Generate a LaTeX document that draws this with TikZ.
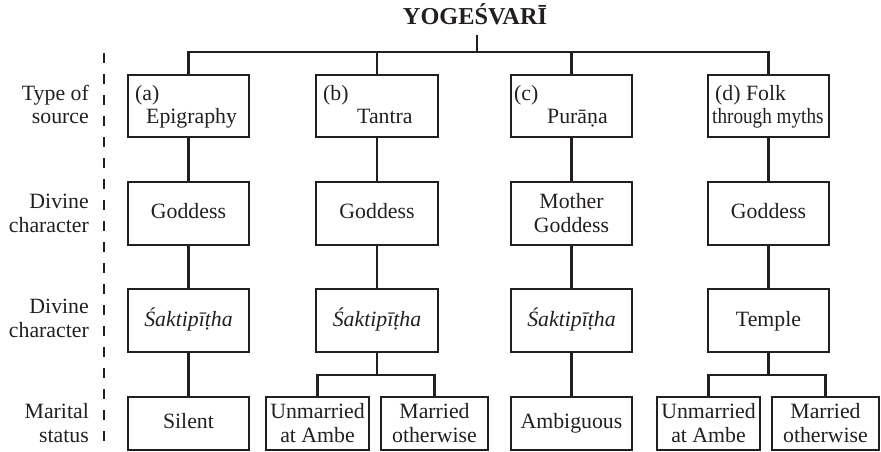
\documentclass[tikz,border=0pt]{standalone}
\usepackage{fontspec}
\setmainfont{Liberation Serif}
\usepackage{graphicx}
\definecolor{inkc}{HTML}{231F20}
\newcommand\dotb[2]{\iffontchar\font"#1\relax\char"#1\relax\else\oalign{#2\crcr\hidewidth.\hidewidth}\fi}
\begin{document}
\begin{tikzpicture}[x=1pt,y=-1pt,
  box/.style={draw=inkc, line width=1.2pt, inner sep=0pt, minimum width=121pt, minimum height=63pt},
  conn/.style={draw=inkc, line width=2.4pt},
  tx/.style={inner sep=0pt, text=inkc, font=\fontsize{21.8pt}{26pt}\selectfont},
  txl/.style={tx, anchor=base west},
  txc/.style={tx, anchor=base},
  txr/.style={tx, anchor=base east},
  ttl/.style={inner sep=0pt, text=inkc, anchor=base, font=\fontsize{24.3pt}{28pt}\selectfont\bfseries}
]
\useasboundingbox (0,0) rectangle (881,452);
% title
\node[ttl] (title) at (475,25) {YOGEŚVARĪ};
\coordinate (tj) at (477,35);
\coordinate (bar) at (477,52);
% dashed divider
\coordinate (dtop) at (104,53);
\coordinate (dbot) at (104,452);
\draw[draw=inkc, line width=2.5pt, dash pattern=on 10pt off 11pt] (dtop) -- (dbot);
% row labels
\node[txr] (l1a) at (89,100) {Type of};
\node[txr] (l1b) at (89,123) {source};
\node[txr] (l2a) at (89,208) {Divine};
\node[txr] (l2b) at (89,232) {character};
\node[txr] (l3a) at (89,313) {Divine};
\node[txr] (l3b) at (89,337) {character};
\node[txr] (l4a) at (89,418) {Marital};
\node[txr] (l4b) at (89,442) {status};
% row 1
\node[box, minimum height=62pt] (a1) at (188.5,106) {};
\node[box, minimum height=62pt, minimum width=122pt] (b1) at (377,106) {};
\node[box, minimum height=62pt] (c1) at (571.5,106) {};
\node[box, minimum height=62pt] (d1) at (768.5,106) {};
\node[txl] (a1t) at (135,100) {(a)};
\node[txl] (a1u) at (146,123) {Epigraphy};
\node[txl] (b1t) at (323,100) {(b)};
\node[txl] (b1u) at (357,123) {Tantra};
\node[txl] (c1t) at (514,100) {(c)};
\node[txl] (c1u) at (547,123) {Purā\dotb{1E47}{n}a};
\node[txl] (d1t) at (715,100) {(d) Folk};
\node[txl] (d1u) at (712,123) {\scalebox{0.88}[1]{through myths}};
% row 2
\node[box] (a2) at (188.5,213.5) {};
\node[box, minimum width=122pt] (b2) at (377,213.5) {};
\node[box] (c2) at (571.5,213.5) {};
\node[box] (d2) at (768.5,213.5) {};
\node[txc] (a2t) at (188.5,218) {Goddess};
\node[txc] (b2t) at (377,218) {Goddess};
\node[txc] (c2t) at (571.5,208) {Mother};
\node[txc] (c2u) at (571.5,232) {Goddess};
\node[txc] (d2t) at (768.5,218) {Goddess};
% row 3
\node[box] (a3) at (188.5,320.5) {};
\node[box, minimum width=122pt] (b3) at (377,320.5) {};
\node[box] (c3) at (571.5,320.5) {};
\node[box] (d3) at (768.5,320.5) {};
\node[txc] (a3t) at (188.5,326) {\itshape Śaktipī\dotb{1E6D}{t}ha};
\node[txc] (b3t) at (377,326) {\itshape Śaktipī\dotb{1E6D}{t}ha};
\node[txc] (c3t) at (571.5,326) {\itshape Śaktipī\dotb{1E6D}{t}ha};
\node[txc] (d3t) at (768.5,326) {Temple};
% row 4
\node[box, minimum height=53pt] (a4) at (188.5,423.5) {};
\node[box, minimum height=53pt, minimum width=103pt] (bU) at (317.5,423.5) {};
\node[box, minimum height=53pt, minimum width=107pt] (bM) at (434.5,423.5) {};
\node[box, minimum height=53pt] (c4) at (571.5,423.5) {};
\node[box, minimum height=53pt, minimum width=103pt] (dU) at (708.5,423.5) {};
\node[box, minimum height=53pt, minimum width=107pt] (dM) at (825.5,423.5) {};
\node[txc] (a4t) at (188.5,428) {Silent};
\node[txc] (bUt) at (317.5,418) {Unmarried};
\node[txc] (bUu) at (317.5,442) {at Ambe};
\node[txc] (bMt) at (434.5,418) {Married};
\node[txc] (bMu) at (434.5,442) {otherwise};
\node[txc] (c4t) at (571.5,428) {Ambiguous};
\node[txc] (dUt) at (708.5,418) {Unmarried};
\node[txc] (dUu) at (708.5,442) {at Ambe};
\node[txc] (dMt) at (825.5,418) {Married};
\node[txc] (dMu) at (825.5,442) {otherwise};
% connectors
\draw[conn] (tj) -- (bar);
\draw[conn] (a1.north) |- (bar) -| (d1.north);
\draw[conn] (b1.north) -- (b1.north |- bar);
\draw[conn] (c1.north) -- (c1.north |- bar);
\draw[conn] (a1.south) -- (a2.north);
\draw[conn] (b1.south) -- (b2.north);
\draw[conn] (c1.south) -- (c2.north);
\draw[conn] (d1.south) -- (d2.north);
\draw[conn] (a2.south) -- (a3.north);
\draw[conn] (b2.south) -- (b3.north);
\draw[conn] (c2.south) -- (c3.north);
\draw[conn] (d2.south) -- (d3.north);
\draw[conn] (a3.south) -- (a4.north);
\draw[conn] (c3.south) -- (c4.north);
\coordinate (bs) at (377,375);
\coordinate (ds) at (768.5,375);
\draw[conn] (b3.south) -- (bs);
\draw[conn] (bU.north) |- (bs) -| (bM.north);
\draw[conn] (d3.south) -- (ds);
\draw[conn] (dU.north) |- (ds) -| (dM.north);
\end{tikzpicture}
\end{document}
